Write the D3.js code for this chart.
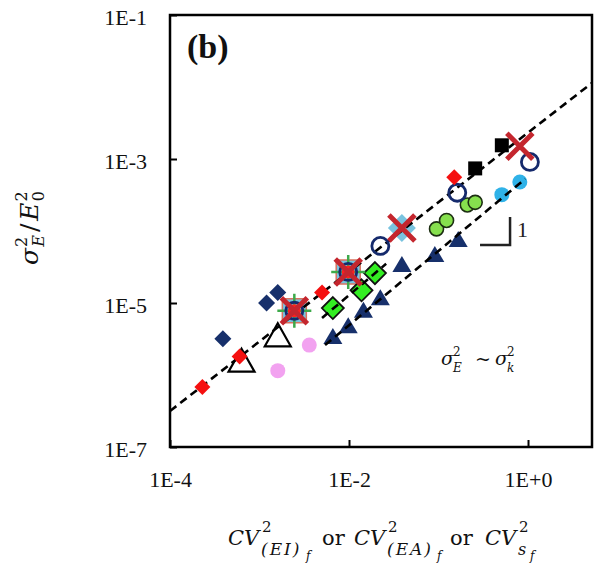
<!DOCTYPE html>
<html><head><meta charset="utf-8">
<script src="https://cdn.jsdelivr.net/npm/d3@7"></script>
<style>body{margin:0;background:#fff}svg{display:block}</style>
</head><body>
<svg id="c" width="602" height="568"></svg>
<script>
// ---- data ----
const xTicks = [1e-4, 1e-2, 1];
const xTickLabels = ["1E-4", "1E-2", "1E+0"];
const yTicks = [1e-7, 1e-5, 1e-3, 1e-1];
const yTickLabels = ["1E-7", "1E-5", "1E-3", "1E-1"];

const redDiamonds = [[2.3e-4, 6.8e-7], [6.0e-4, 1.8e-6], [5.0e-3, 1.4e-5], [0.15, 5.6e-4]];
const navyDiamonds = [[3.9e-4, 3.2e-6], [1.2e-3, 1.0e-5], [1.6e-3, 1.4e-5]];
const openTriangles = [[6.3e-4, 1.42e-6], [1.6e-3, 3.2e-6]];
const pinkCircles = [[1.6e-3, 1.15e-6], [3.6e-3, 2.6e-6]];
const cyanSquares = [[2.45e-3, 7.8e-6], [9.8e-3, 2.7e-5]];
const cyanDiamonds = [[0.039, 1.1e-4]];
const greenPlus = [[2.45e-3, 7.8e-6], [9.8e-3, 2.7e-5]];
const greenDiamonds = [[6.6e-3, 8.5e-6], [0.0138, 1.5e-5], [0.0195, 2.6e-5]];
const navyTriangles = [[6.6e-3, 3.2e-6], [9.8e-3, 4.5e-6], [0.0145, 7.4e-6], [0.0224, 1.1e-5],
                       [0.039, 3.2e-5], [0.091, 4.4e-5], [0.166, 7.1e-5]];
const greenCircles = [[0.095, 1.07e-4], [0.123, 1.4e-4], [0.21, 2.3e-4], [0.257, 2.5e-4]];
const navyOpenCircles = [[2.45e-3, 7.8e-6], [9.8e-3, 2.7e-5], [0.0224, 6.2e-5], [0.162, 3.4e-4], [1.05, 9.1e-4]];
const blackSquares = [[0.257, 7.4e-4], [0.51, 1.55e-3]];
const cyanCircles = [[0.51, 3.2e-4], [0.81, 4.8e-4]];
const redCircles = [[2.45e-3, 7.8e-6], [9.8e-3, 2.7e-5]];
const redCrosses = [[2.45e-3, 7.8e-6], [9.8e-3, 2.7e-5], [0.039, 1.1e-4], [0.81, 1.5e-3]];

const upperLine = [[1e-4, 3.16e-7], [5.19, 1.14e-2]];
const lowerLine = [[5.4e-3, 2.6e-6], [0.93, 5.3e-4]];
const middleLine = [[5.0e-3, 6.2e-6], [0.026, 3.5e-5]];
const slopeMark = [[0.291, 6.4e-5], [0.63, 6.4e-5], [0.63, 1.56e-4]];

// ---- layout ----
const L = 170, R = 592, T = 15, B = 447;
const svg = d3.select("#c");
const x = d3.scaleLog().domain([1e-4, Math.pow(10, 0.715)]).range([L, R]);
const y = d3.scaleLog().domain([1e-7, 1e-1]).range([B, T]);

svg.append("rect").attr("width", 602).attr("height", 568).attr("fill", "#fff");

svg.append("defs").append("clipPath").attr("id", "clip")
  .append("rect").attr("x", L).attr("y", T).attr("width", R - L).attr("height", B - T);

// axes
const tf = (ticks, labels) => d => labels[ticks.indexOf(d)];
const gx = svg.append("g").attr("transform", `translate(0,${B})`)
  .call(d3.axisBottom(x).tickValues(xTicks).tickFormat(tf(xTicks, xTickLabels))
        .tickSizeInner(-7).tickSizeOuter(0).tickPadding(24));
const gy = svg.append("g").attr("transform", `translate(${L},0)`)
  .call(d3.axisLeft(y).tickValues(yTicks).tickFormat(tf(yTicks, yTickLabels))
        .tickSizeInner(-7).tickSizeOuter(0).tickPadding(23));
[gx, gy].forEach(g => {
  g.select(".domain").remove();
  g.selectAll(".tick line").attr("stroke", "#000").attr("stroke-width", 2);
  g.selectAll(".tick text").attr("font-family", "Liberation Serif, Times New Roman, serif")
    .attr("font-size", 22).attr("fill", "#111");
});
gy.selectAll(".tick text").attr("dy", "0.43em");

const plot = svg.append("g").attr("clip-path", "url(#clip)");

// marker shapes
const diamond = h => `M0,${-h}L${h},0L0,${h}L${-h},0Z`;
const square = s => `M${-s/2},${-s/2}H${s/2}V${s/2}H${-s/2}Z`;
const tri = (w, h) => `M0,${-2*h/3}L${w/2},${h/3}L${-w/2},${h/3}Z`;
const circ = r => `M${r},0A${r},${r} 0 1,1 ${-r},0A${r},${r} 0 1,1 ${r},0Z`;
const cross = h => `M${-h},${-h}L${h},${h}M${-h},${h}L${h},${-h}`;
const plus = h => `M${-h},0H${h}M0,${-h}V${h}`;

function draw(data, d, fill, stroke, sw) {
  plot.append("g").selectAll("path").data(data).join("path")
    .attr("transform", p => `translate(${x(p[0])},${y(p[1])})`)
    .attr("d", d).attr("fill", fill).attr("stroke", stroke || "none")
    .attr("stroke-width", sw || 0).attr("stroke-linecap", "butt");
}
const line = d3.line().x(p => x(p[0])).y(p => y(p[1]));
function dashed(data) {
  plot.append("path").datum(data).attr("d", line).attr("fill", "none")
    .attr("stroke", "#000").attr("stroke-width", 2.6).attr("stroke-dasharray", "8,5");
}

draw(pinkCircles, circ(7.5), "#f2a2f0");
draw(navyDiamonds, diamond(8.5), "#17306b");
draw(openTriangles, tri(26, 23), "#fff", "#000", 2.2);
draw(cyanSquares, square(24), "#79c3df", "#d9735f", 1.5);
draw(cyanDiamonds, diamond(14), "#79c3df");
draw(greenDiamonds, diamond(11), "#33ee22", "#111", 1.8);
draw(navyTriangles, tri(19, 16), "#17306b");
draw(greenCircles, circ(7), "#86e04e", "#1c2e12", 1.6);
draw(cyanCircles, circ(7.5), "#2fb2e8");
draw(blackSquares, square(14), "#000");
dashed(upperLine);
dashed(lowerLine);
dashed(middleLine);
draw(greenPlus, plus(17), "none", "#3daa4a", 2.5);
draw(redCircles, circ(6.5), "#ff1f1f");
draw(navyOpenCircles, circ(8.5), "none", "#152a6c", 2.8);
draw(redCrosses, cross(13), "none", "#c4262e", 5);
draw(redDiamonds, diamond(8), "#f51010");

// slope indicator
svg.append("path").datum(slopeMark).attr("d", line).attr("fill", "none")
  .attr("stroke", "#222").attr("stroke-width", 2.5);
svg.append("text").attr("x", 517).attr("y", 237).attr("font-family", "Liberation Serif, serif")
  .attr("font-size", 22).attr("fill", "#222").text("1");

// frame
svg.append("rect").attr("x", L).attr("y", T).attr("width", R - L).attr("height", B - T)
  .attr("fill", "none").attr("stroke", "#000").attr("stroke-width", 2.5);

// panel label
svg.append("text").attr("x", 187).attr("y", 58).attr("font-family", "Liberation Serif, serif")
  .attr("font-weight", "bold").attr("font-size", 34).attr("fill", "#111").text("(b)");

// math text helper
const MF = "DejaVu Serif, serif";
function t(xp, yp, s, size, italic, ls) {
  const e = svg.append("text").attr("x", xp).attr("y", yp).attr("font-family", MF)
    .attr("font-size", size).attr("font-style", italic ? "italic" : "normal").attr("fill", "#111").text(s);
  if (ls) e.attr("letter-spacing", ls);
  return e;
}
// annotation  σ_E^2 ~ σ_k^2
t(441, 365, "σ", 19, true);
t(453, 356, "2", 12, false);
t(453, 372, "E", 12, true);
t(475, 365, "~", 19, false);
t(495, 365, "σ", 19, true);
t(507, 356, "2", 12, false);
t(507, 372, "k", 12, true);

// x-axis title
t(228, 545, "CV", 21, true);
t(262, 532, "2", 15, false);
t(261, 555, "(EI)", 17, true, 2);
t(306, 560, "f", 12, true);
t(322, 545, "or", 21, false);
t(354, 545, "CV", 21, true);
t(388, 532, "2", 15, false);
t(387, 555, "(EA)", 17, true, 2);
t(437, 560, "f", 12, true);
t(450, 545, "or", 21, false);
t(485, 545, "CV", 21, true);
t(519, 532, "2", 15, false);
t(518, 555, "s", 16, true);
t(530, 560, "f", 12, true);

// y-axis title (rotated)
const yt = svg.append("text").attr("transform", "translate(38,228) rotate(-90)")
  .attr("font-family", MF).attr("font-size", 25).attr("fill", "#111").attr("text-anchor", "middle");
yt.append("tspan").attr("font-style", "italic").text("σ");
yt.append("tspan").attr("font-size", 16).attr("dy", -11).attr("dx", 1).text("2");
yt.append("tspan").attr("font-size", 16).attr("font-style", "italic").attr("dx", -10).attr("dy", 17).text("E");
yt.append("tspan").attr("dy", -6).attr("dx", 3).text("/");
yt.append("tspan").attr("font-style", "italic").attr("dx", 3).text("E");
yt.append("tspan").attr("font-size", 16).attr("dy", -11).attr("dx", 1).text("2");
yt.append("tspan").attr("font-size", 16).attr("dx", -10).attr("dy", 17).text("0");
</script>
</body></html>
